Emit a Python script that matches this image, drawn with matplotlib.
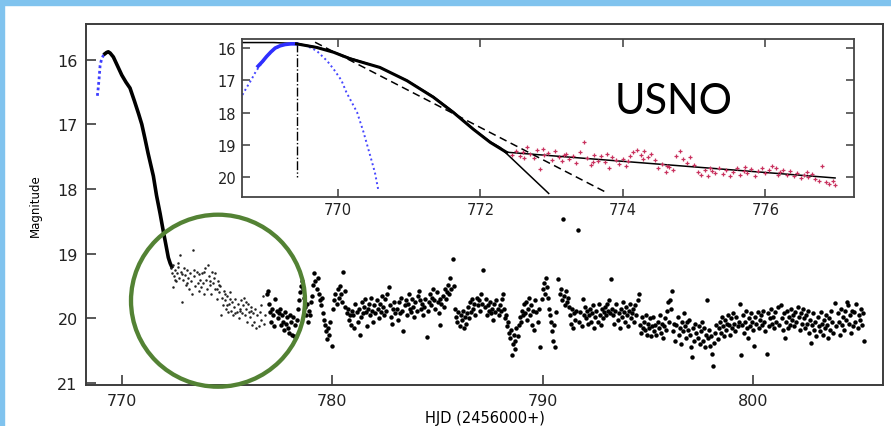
import matplotlib.pyplot as plt
from matplotlib.patches import Ellipse, Rectangle

# ---------------- main light curve ----------------
rise_x = [768.84, 768.88, 768.92, 768.97, 769.02, 769.07, 769.12, 769.16, 769.20]
rise_y = [16.56, 16.44, 16.30, 16.09, 16.02, 15.97, 15.94, 15.92, 15.91]

fall_x = [769.20, 769.28, 769.36, 769.45, 769.60, 769.80, 770.00, 770.20, 770.39,
          770.60, 770.80, 770.95, 771.10, 771.25, 771.40, 771.50, 771.65, 771.82,
          771.97, 772.10, 772.21, 772.30, 772.37]
fall_y = [15.91, 15.89, 15.88, 15.90, 15.96, 16.10, 16.24, 16.35, 16.44,
          16.64, 16.84, 17.00, 17.22, 17.45, 17.66, 17.80, 18.10, 18.38,
          18.65, 18.87, 19.06, 19.15, 19.20]

# faint points right after the drop (inside the circle)
fade_x = [772.32, 772.38, 772.42, 772.45, 772.50, 772.55, 772.58, 772.62, 772.68, 772.72,
          772.77, 772.80, 772.85, 772.90, 772.95, 773.00, 773.05, 773.10, 773.15, 773.20,
          773.25, 773.30, 773.35, 773.40, 773.45, 773.50, 773.55, 773.60, 773.65, 773.70,
          773.75, 773.80, 773.85, 773.90, 773.95, 774.00, 774.05, 774.10, 774.15, 774.20,
          774.25, 774.30, 774.35, 774.40, 774.45, 774.50, 774.55, 774.60, 774.65, 774.70,
          774.75, 774.80, 774.85, 774.90, 774.95, 775.00, 775.05, 775.10, 775.15, 775.20,
          775.25, 775.30, 775.35, 775.40, 775.45, 775.50, 775.55, 775.60, 775.65, 775.70,
          775.75, 775.80, 775.85, 775.90, 775.95, 776.00, 776.05, 776.10, 776.15, 776.20,
          776.25, 776.30, 776.35, 776.40, 776.50, 776.55, 776.60, 776.70, 776.75, 776.80,
          772.52, 772.65, 772.88, 773.12, 773.42, 773.68, 773.92, 774.18, 774.42, 774.62,
          774.88, 775.12, 775.38, 775.62, 775.88, 776.12, 776.38, 776.62, 775.02, 774.52]
fade_y = [19.22, 19.30, 19.18, 19.52, 19.35, 19.25, 19.42, 19.30, 19.20, 19.38,
          19.02, 19.28, 19.75, 19.40, 19.22, 19.33, 19.48, 19.26, 19.38, 19.55,
          19.30, 19.42, 19.62, 18.94, 19.35, 19.50, 19.28, 19.45, 19.58, 19.40,
          19.52, 19.30, 19.45, 19.62, 19.22, 19.40, 19.55, 19.18, 19.35, 19.48,
          19.62, 19.28, 19.45, 19.38, 19.55, 19.70, 19.42, 19.60, 19.50, 19.95,
          19.68, 19.80, 19.58, 19.72, 19.85, 19.65, 19.90, 19.78, 19.70, 19.88,
          19.75, 19.95, 19.82, 19.70, 19.90, 19.78, 20.00, 19.85, 19.72, 19.92,
          19.80, 19.68, 19.95, 19.85, 20.05, 19.78, 19.90, 19.98, 19.82, 20.10,
          19.92, 20.05, 19.85, 19.95, 20.12, 19.90, 20.02, 19.65, 20.08, 19.95,
          19.40, 19.15, 19.32, 19.45, 19.25, 19.32, 19.28, 19.42, 19.30, 19.48,
          19.62, 19.60, 19.92, 19.88, 19.75, 19.88, 20.15, 19.80, 19.80, 19.55]

tail_x = [776.90, 776.95, 777.00, 777.05, 777.10, 777.15, 777.20, 777.25, 777.30, 777.35,
          777.40, 777.45, 777.50, 777.55, 777.60, 777.65, 777.70, 777.75, 777.80, 777.85,
          777.90, 777.95, 778.00, 778.05, 778.10, 778.15, 778.20, 778.25, 778.30, 778.35,
          778.40, 778.45, 778.50, 778.55, 778.60, 778.65, 778.70, 778.75, 778.80, 778.85,
          778.90, 778.95, 779.00, 779.05, 779.10, 779.15, 779.20, 779.25, 779.30, 779.35,
          779.40, 779.45, 779.50, 779.55, 779.60, 779.65, 779.70, 779.75, 779.80, 779.85,
          779.90, 779.97, 780.05, 780.10, 780.15, 780.20, 780.25, 780.30, 780.35, 780.40,
          780.45, 780.52, 780.58, 780.62, 780.70, 780.75, 780.80, 780.85, 780.90, 780.95,
          781.00, 781.05, 781.10, 781.15, 781.20, 781.25, 781.30, 781.35, 781.40, 781.45,
          781.50, 781.55, 781.60, 781.65, 781.70, 781.75, 781.80, 781.85, 781.90, 781.95,
          782.00, 782.05, 782.10, 782.15, 782.20, 782.25, 782.30, 782.35, 782.40, 782.45,
          782.50, 782.55, 782.60, 782.67, 782.72, 782.78, 782.85, 782.90, 782.95, 783.00,
          783.05, 783.10, 783.15, 783.20, 783.25, 783.30, 783.38, 783.45, 783.50, 783.55,
          783.60, 783.65, 783.70, 783.75, 783.80, 783.85, 783.90, 783.95, 784.00, 784.05,
          784.10, 784.15, 784.20, 784.25, 784.30, 784.35, 784.40, 784.49, 784.55, 784.60,
          784.65, 784.70, 784.75, 784.80, 784.85, 784.90, 784.95, 785.00, 785.05, 785.10,
          785.13, 785.18, 785.25, 785.30, 785.35, 785.40, 785.45, 785.50, 785.55, 785.60,
          785.65, 785.72, 785.78, 785.82, 785.88, 785.92, 785.98, 786.05, 786.10, 786.15,
          786.20, 786.25, 786.30, 786.35, 786.40, 786.45, 786.50, 786.55, 786.60, 786.65,
          786.70, 786.75, 786.80, 786.85, 786.90, 786.95, 787.00, 787.05, 787.10, 787.18,
          787.25, 787.30, 787.35, 787.40, 787.45, 787.50, 787.55, 787.60, 787.65, 787.70,
          787.75, 787.80, 787.85, 787.90, 787.95, 788.00, 788.05, 788.10, 788.15, 788.20,
          788.25, 788.30, 788.35, 788.40, 788.45, 788.50, 788.54, 788.58, 788.62, 788.66,
          788.70, 788.75, 788.80, 788.85, 788.90, 788.95, 789.00, 789.05, 789.10, 789.15,
          789.20, 789.25, 789.30, 789.35, 789.40, 789.45, 789.50, 789.55, 789.60, 789.65,
          789.70, 789.75, 789.80, 789.89, 789.95, 790.00, 790.05, 790.10, 790.15, 790.20,
          790.25, 790.30, 790.35, 790.40, 790.45, 790.50, 790.55, 790.60, 790.65, 790.74,
          790.80, 790.85, 790.90, 790.95, 791.00, 791.05, 791.10, 791.15, 791.20, 791.25,
          791.30, 791.35, 791.40, 791.45, 791.50, 791.55, 791.60, 791.68, 791.72, 791.78,
          791.85, 791.90, 791.95, 792.00, 792.05, 792.10, 792.15, 792.20, 792.25, 792.30,
          792.35, 792.40, 792.45, 792.50, 792.55, 792.60, 792.65, 792.70, 792.75, 792.80,
          792.85, 792.90, 792.95, 793.00, 793.05, 793.10, 793.15, 793.20, 793.25, 793.30,
          793.35, 793.40, 793.45, 793.50, 793.55, 793.60, 793.65, 793.70, 793.75, 793.80,
          793.85, 793.90, 793.95, 794.00, 794.05, 794.10, 794.15, 794.20, 794.25, 794.30,
          794.35, 794.40, 794.45, 794.50, 794.55, 794.60, 794.65, 794.70, 794.75, 794.80,
          794.85, 794.90, 794.95, 795.00, 795.05, 795.10, 795.15, 795.20, 795.25, 795.30,
          795.35, 795.40, 795.45, 795.50, 795.55, 795.60, 795.65, 795.70, 795.75, 795.80,
          795.85, 795.90, 795.95, 796.00, 796.05, 796.10, 796.14, 796.20, 796.25, 796.30,
          796.35, 796.40, 796.45, 796.50, 796.55, 796.60, 796.65, 796.70, 796.75, 796.80,
          796.85, 796.90, 796.95, 797.00, 797.05, 797.10, 797.15, 797.20, 797.25, 797.30,
          797.35, 797.40, 797.45, 797.50, 797.55, 797.60, 797.65, 797.70, 797.75, 797.80,
          797.85, 797.90, 797.95, 798.00, 798.05, 798.10, 798.15, 798.20, 798.25, 798.30,
          798.35, 798.40, 798.45, 798.50, 798.55, 798.60, 798.65, 798.70, 798.75, 798.80,
          798.85, 798.90, 798.95, 799.00, 799.05, 799.10, 799.15, 799.20, 799.25, 799.30,
          799.35, 799.40, 799.45, 799.50, 799.55, 799.60, 799.65, 799.70, 799.75, 799.80,
          799.85, 799.90, 799.95, 800.00, 800.05, 800.10, 800.15, 800.20, 800.25, 800.30,
          800.35, 800.40, 800.45, 800.50, 800.55, 800.64, 800.70, 800.75, 800.80, 800.85,
          800.90, 800.95, 801.00, 801.05, 801.10, 801.15, 801.20, 801.30, 801.35, 801.40,
          801.45, 801.50, 801.55, 801.60, 801.65, 801.70, 801.75, 801.80, 801.85, 801.90,
          801.95, 802.00, 802.05, 802.10, 802.15, 802.20, 802.25, 802.30, 802.35, 802.40,
          802.45, 802.50, 802.55, 802.60, 802.65, 802.70, 802.75, 802.80, 802.85, 802.90,
          802.95, 803.00, 803.05, 803.10, 803.15, 803.20, 803.25, 803.30, 803.35, 803.40,
          803.45, 803.50, 803.55, 803.60, 803.65, 803.70, 803.75, 803.80, 803.88, 803.95,
          804.00, 804.05, 804.10, 804.15, 804.20, 804.25, 804.30, 804.35, 804.40, 804.45,
          804.50, 804.55, 804.60, 804.65, 804.70, 804.75, 804.80, 804.85, 804.90, 804.95,
          805.00, 805.05, 805.10, 805.15, 805.20, 805.25]
tail_y = [19.62, 19.58, 19.78, 19.90, 20.05, 19.85, 19.95, 20.12, 19.70, 19.88,
          20.00, 19.92, 19.85, 20.10, 19.95, 20.05, 20.18, 19.90, 20.08, 19.98,
          20.15, 20.22, 19.95, 20.05, 20.25, 19.98, 20.28, 20.10, 20.02, 19.85,
          19.72, 19.60, 19.50, 19.42, 19.55, 19.68, 19.82, 19.95, 19.78, 20.05,
          19.88, 19.95, 19.75, 19.65, 19.48, 19.30, 19.42, 19.55, 19.38, 19.62,
          19.72, 19.80, 19.68, 19.92, 20.02, 20.10, 20.20, 20.32, 20.15, 20.25,
          20.05, 20.42, 19.85, 19.72, 19.62, 19.78, 19.55, 19.68, 19.50, 19.62,
          19.75, 19.28, 19.58, 19.82, 19.92, 19.85, 20.02, 19.95, 20.10, 19.88,
          19.95, 20.15, 19.78, 19.90, 20.05, 19.85, 20.25, 19.98, 19.75, 19.92,
          19.82, 19.70, 19.90, 20.12, 19.85, 19.78, 19.95, 19.68, 19.88, 20.05,
          19.80, 19.92, 19.72, 19.85, 20.00, 19.78, 19.90, 19.65, 19.82, 19.95,
          19.70, 19.88, 19.62, 19.52, 19.80, 19.98, 20.08, 19.85, 19.75, 19.92,
          19.85, 20.02, 19.75, 19.92, 19.68, 19.88, 20.19, 19.80, 19.72, 19.95,
          19.78, 19.62, 19.85, 19.90, 19.70, 19.82, 19.98, 19.75, 19.88, 19.65,
          19.58, 19.72, 19.85, 19.78, 19.95, 19.82, 19.70, 20.29, 19.88, 19.75,
          19.62, 19.80, 19.68, 19.55, 19.72, 19.85, 19.60, 19.75, 19.92, 19.70,
          20.11, 19.78, 19.65, 19.82, 19.55, 19.70, 19.60, 19.48, 19.62, 19.38,
          19.55, 19.09, 19.50, 19.85, 19.98, 20.05, 19.90, 20.12, 19.95, 20.02,
          19.88, 20.15, 19.98, 20.08, 19.92, 19.82, 20.00, 19.75, 19.90, 19.70,
          19.85, 19.78, 19.95, 19.68, 19.80, 19.72, 19.88, 19.62, 19.78, 19.25,
          19.82, 19.70, 19.95, 19.80, 19.88, 19.75, 19.92, 19.85, 20.02, 19.78,
          19.90, 19.72, 19.85, 19.95, 19.80, 19.88, 19.70, 19.62, 19.85, 20.00,
          19.95, 20.12, 20.05, 20.22, 20.30, 20.18, 20.57, 20.40, 20.25, 20.48,
          20.35, 20.15, 20.28, 20.10, 19.98, 20.05, 19.88, 19.95, 19.78, 19.92,
          19.75, 20.02, 19.85, 19.68, 19.95, 19.80, 20.10, 19.88, 20.18, 19.72,
          19.90, 20.05, 19.85, 20.44, 19.70, 19.55, 19.45, 19.62, 19.38, 19.52,
          19.68, 19.85, 19.95, 20.05, 20.20, 20.35, 20.10, 20.45, 19.90, 19.39,
          19.62, 19.55, 19.72, 18.46, 19.65, 19.80, 19.58, 19.75, 19.68, 19.82,
          19.95, 20.08, 19.85, 20.15, 19.92, 20.02, 19.88, 18.64, 20.05, 19.90,
          20.12, 19.70, 19.95, 19.82, 20.00, 19.88, 20.08, 19.95, 19.85, 20.05,
          19.92, 19.80, 20.15, 19.98, 19.88, 20.05, 19.78, 19.95, 20.10, 19.85,
          20.00, 19.90, 19.82, 19.95, 19.78, 19.88, 19.72, 19.92, 19.39, 19.85,
          19.95, 20.08, 19.88, 19.78, 20.02, 19.92, 20.15, 19.85, 19.98, 19.75,
          19.90, 20.05, 19.82, 19.95, 20.12, 19.88, 19.78, 20.00, 19.92, 19.85,
          20.05, 19.80, 19.95, 19.72, 19.62, 20.10, 20.22, 19.98, 20.15, 20.05,
          20.18, 19.95, 20.25, 20.08, 20.15, 20.00, 20.28, 20.12, 19.98, 20.20,
          20.10, 20.25, 20.05, 20.15, 19.95, 20.22, 20.08, 20.30, 20.12, 20.00,
          20.18, 19.88, 19.75, 20.05, 19.72, 19.85, 19.58, 20.20, 20.08, 20.35,
          20.10, 19.98, 20.25, 20.15, 20.40, 20.05, 20.20, 19.92, 20.12, 20.30,
          20.05, 20.18, 20.02, 20.25, 20.45, 20.60, 20.15, 20.35, 20.08, 20.22,
          20.30, 20.12, 20.40, 20.20, 20.05, 20.35, 20.15, 20.45, 20.25, 19.72,
          20.30, 20.18, 20.42, 20.28, 20.55, 20.73, 20.38, 20.22, 20.10, 20.32,
          20.15, 20.05, 20.22, 19.98, 20.12, 20.28, 20.02, 20.18, 20.08, 19.95,
          20.10, 20.25, 20.00, 20.15, 19.92, 20.08, 20.20, 19.98, 20.12, 20.05,
          19.78, 20.57, 20.10, 19.95, 20.22, 20.05, 19.88, 20.15, 20.30, 20.00,
          20.12, 19.92, 20.05, 20.18, 20.42, 19.98, 20.08, 19.90, 20.15, 20.02,
          19.95, 20.10, 19.88, 20.05, 20.20, 20.55, 19.92, 20.12, 20.00, 19.85,
          20.08, 19.98, 20.15, 19.90, 20.05, 19.82, 20.10, 19.79, 20.00, 20.18,
          19.92, 20.30, 20.05, 19.88, 20.15, 19.98, 20.10, 19.85, 20.02, 19.95,
          20.12, 19.90, 20.05, 19.82, 19.98, 20.18, 19.92, 20.08, 19.85, 20.00,
          20.15, 19.95, 20.08, 19.88, 20.22, 20.02, 20.38, 20.10, 19.92, 20.18,
          20.05, 20.28, 19.98, 20.12, 20.20, 19.90, 20.08, 20.25, 20.02, 20.15,
          19.95, 20.10, 20.30, 20.00, 20.18, 19.88, 20.05, 20.22, 19.77, 20.12,
          19.92, 20.05, 20.25, 19.85, 20.10, 19.98, 20.18, 19.88, 20.02, 19.75,
          19.80, 20.08, 19.95, 20.22, 19.88, 20.12, 19.90, 20.05, 19.78, 20.15,
          19.95, 20.02, 19.85, 20.10, 19.92, 20.35]

# ---------------- inset (USNO) ----------------
in_blue_x = [768.88, 768.94, 769.00, 769.06, 769.12, 769.19, 769.26, 769.34, 769.42]
in_blue_y = [16.56, 16.42, 16.26, 16.12, 16.00, 15.93, 15.89, 15.87, 15.87]

in_black_x = [769.42, 769.70, 769.94, 770.17, 770.59, 770.97, 771.34, 771.62, 771.90,
              772.14, 772.37]
in_black_y = [15.87, 15.98, 16.13, 16.33, 16.60, 17.01, 17.52, 17.99, 18.51,
              18.92, 19.23]

blue_fit_x = [768.66, 768.72, 768.78, 768.85, 768.92, 769.00, 769.10, 769.20, 769.30,
              769.42, 769.55, 769.70, 769.85, 769.94, 770.05, 770.12, 770.27, 770.36,
              770.45, 770.52, 770.57]
blue_fit_y = [17.45, 17.22, 17.00, 16.72, 16.50, 16.27, 16.05, 15.93, 15.87,
              15.86, 15.92, 16.08, 16.40, 16.65, 17.00, 17.37, 17.99, 18.60,
              19.30, 19.85, 20.42]

solid_fit_x = [768.65, 769.10, 769.42, 769.70, 769.94, 770.17, 770.59, 770.97, 771.34,
               771.62, 771.90, 772.14, 772.28, 772.60, 772.96]
solid_fit_y = [15.83, 15.83, 15.86, 15.97, 16.12, 16.31, 16.60, 17.00, 17.50,
               17.97, 18.50, 18.90, 19.08, 19.75, 20.50]

late_fit_x = [772.35, 776.98]
late_fit_y = [19.22, 20.02]

dash_fit_x = [769.68, 773.77]
dash_fit_y = [15.82, 20.47]

peak_x = 769.42
peak_y = [15.85, 20.00]

pink_x = [772.45, 772.50, 772.55, 772.60, 772.65, 772.70, 772.75, 772.80, 772.84, 772.90,
          772.95, 773.00, 773.05, 773.10, 773.15, 773.20, 773.25, 773.30, 773.35, 773.40,
          773.45, 773.50, 773.55, 773.60, 773.65, 773.70, 773.75, 773.80, 773.85, 773.90,
          773.95, 774.00, 774.05, 774.10, 774.15, 774.20, 774.25, 774.30, 774.35, 774.40,
          774.45, 774.50, 774.55, 774.60, 774.65, 774.70, 774.75, 774.80, 774.85, 774.90,
          774.95, 775.00, 775.05, 775.10, 775.15, 775.20, 775.25, 775.30, 775.35, 775.40,
          775.45, 775.50, 775.55, 775.60, 775.65, 775.70, 775.75, 775.80, 775.85, 775.90,
          775.95, 776.00, 776.05, 776.10, 776.15, 776.20, 776.25, 776.30, 776.35, 776.40,
          776.45, 776.50, 776.55, 776.60, 776.65, 776.70, 776.75, 776.80, 776.85, 776.90,
          776.95, 776.98, 772.62, 772.88, 773.18, 773.58, 774.08, 774.62, 775.22, 775.72,
          776.18, 776.58, 774.28, 773.78]
pink_y = [19.30, 19.18, 19.35, 19.22, 19.05, 19.28, 19.40, 19.15, 19.74, 19.32,
          19.25, 19.45, 19.20, 19.38, 19.50, 19.28, 19.42, 19.35, 19.55, 19.22,
          18.92, 19.40, 19.62, 19.30, 19.48, 19.35, 19.52, 19.70, 19.38, 19.45,
          19.58, 19.42, 19.65, 19.35, 19.22, 19.15, 19.30, 19.20, 19.38, 19.28,
          19.45, 19.72, 19.60, 19.85, 19.68, 19.78, 19.35, 19.20, 19.42, 19.55,
          19.38, 19.62, 19.85, 19.92, 19.78, 19.95, 19.82, 19.88, 19.70, 19.90,
          19.78, 19.95, 19.85, 19.72, 19.92, 19.80, 19.88, 19.75, 19.95, 19.82,
          19.70, 19.88, 19.76, 19.66, 19.72, 19.85, 19.78, 19.92, 19.82, 19.95,
          19.88, 20.02, 19.92, 19.98, 19.90, 20.05, 20.12, 19.66, 20.15, 20.20,
          20.10, 20.25, 19.40, 19.12, 19.30, 19.52, 19.48, 19.65, 19.72, 19.68,
          19.92, 19.85, 19.42, 19.28]

spine_col = '#3c3c3c'

fig = plt.figure(figsize=(8.91, 4.27), dpi=100)

# light blue slide frame
fig.add_artist(Rectangle((0, 1 - 6 / 427), 1, 6 / 427, transform=fig.transFigure,
                         color='#80c3ee', zorder=0))
fig.add_artist(Rectangle((0, 0), 4 / 891, 1, transform=fig.transFigure,
                         color='#80c3ee', zorder=0))

ax = fig.add_axes([86 / 891, 1 - 386 / 427, 797 / 891, 361 / 427])
ax.plot(rise_x, rise_y, ls=(0, (1, 1)), lw=2, color='#3d3dff')
ax.plot(fall_x, fall_y, '-', lw=2.6, color='black')
ax.plot(fade_x, fade_y, 'o', ms=1.8, mew=0, color='#222222')
ax.plot(tail_x, tail_y, 'o', ms=3.2, mew=0, color='black')

ax.set_xlim(768.3, 806.16)
ax.set_ylim(21.03, 15.45)
ax.set_xticks([770, 780, 790, 800])
ax.set_yticks([16, 17, 18, 19, 20, 21])
ax.tick_params(direction='in', length=7.5, width=1.2, labelsize=11.5, pad=6,
               colors=spine_col, labelcolor='#222222')
for s in ax.spines.values():
    s.set_color(spine_col)
    s.set_linewidth(1.4)
ax.set_xlabel('HJD (2456000+)', fontsize=10.5, labelpad=1)
ax.set_ylabel('Magnitude', fontsize=8.5, labelpad=11)

# inset
ins = fig.add_axes([241.7 / 891, 1 - 197.7 / 427, 612.6 / 891, 157.7 / 427])
ins.plot(blue_fit_x, blue_fit_y, ls=(0, (1, 1.5)), lw=1.4, color='#4646ff')
ins.plot(solid_fit_x, solid_fit_y, '-', lw=1.1, color='black')
ins.plot(late_fit_x, late_fit_y, '-', lw=1.1, color='black')
ins.plot(dash_fit_x, dash_fit_y, ls=(0, (5, 3)), lw=1.1, color='black')
ins.plot([peak_x, peak_x], peak_y, ls='-.', lw=1.0, color='black')
ins.plot(in_blue_x, in_blue_y, '-', lw=2.6, color='#2f2fff')
ins.plot(in_black_x, in_black_y, '-', lw=2.2, color='black')
ins.plot(pink_x, pink_y, '+', ms=3, mew=0.9, color='#c9325f')
ins.text(774.71, 17.63, 'USNO', fontsize=30, family=['Lato', 'DejaVu Sans'],
         ha='center', va='center')

ins.set_xlim(768.65, 777.25)
ins.set_ylim(20.6, 15.72)
ins.set_xticks([770, 772, 774, 776])
ins.set_yticks([16, 17, 18, 19, 20])
ins.tick_params(direction='in', length=6, width=1.1, labelsize=10.5, pad=4,
                top=True, right=True, colors=spine_col, labelcolor='#222222')
for s in ins.spines.values():
    s.set_color('#444444')
    s.set_linewidth(1.3)

# green highlight circle
fig.add_artist(Ellipse((218 / 891, 1 - 301.7 / 427), 174 / 891, 172 / 427,
                       transform=fig.transFigure, fill=False,
                       edgecolor='#538234', lw=3.1, zorder=10))

fig.savefig('out.png', dpi=100)
